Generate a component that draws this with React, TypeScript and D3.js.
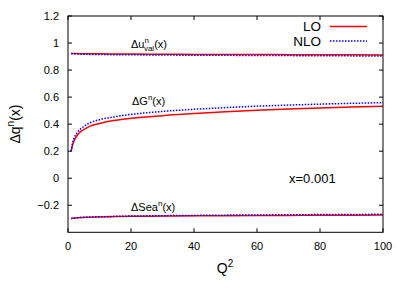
import React from "react";
import * as d3 from "d3";

const q2 = [1, 1.5, 2, 3, 4, 5, 7, 10, 15, 20, 30, 40, 50, 60, 70, 80, 90, 100];
const uvalLO = [0.924, 0.923, 0.923, 0.922, 0.921, 0.921, 0.920, 0.920, 0.919, 0.918, 0.917, 0.916, 0.915, 0.915, 0.914, 0.913, 0.913, 0.912];
const uvalNLO = [0.922, 0.921, 0.920, 0.919, 0.918, 0.917, 0.916, 0.915, 0.914, 0.913, 0.911, 0.910, 0.909, 0.908, 0.907, 0.906, 0.905, 0.904];
const gLO = [0.2, 0.25, 0.28, 0.32, 0.345, 0.36, 0.385, 0.405, 0.428, 0.443, 0.463, 0.478, 0.492, 0.503, 0.512, 0.52, 0.527, 0.532];
const gNLO = [0.2, 0.265, 0.3, 0.34, 0.365, 0.383, 0.41, 0.433, 0.456, 0.472, 0.494, 0.51, 0.522, 0.533, 0.541, 0.548, 0.554, 0.559];
const seaLO = [-0.298, -0.296, -0.295, -0.293, -0.291, -0.290, -0.288, -0.286, -0.284, -0.282, -0.280, -0.278, -0.277, -0.276, -0.275, -0.274, -0.273, -0.272];
const seaNLO = [-0.298, -0.296, -0.294, -0.292, -0.290, -0.289, -0.287, -0.285, -0.282, -0.280, -0.277, -0.275, -0.273, -0.272, -0.270, -0.269, -0.268, -0.267];
const xTicks = [0, 20, 40, 60, 80, 100];
const yTicks = [-0.2, 0, 0.2, 0.4, 0.6, 0.8, 1, 1.2];

const L = 68, R = 383, T = 16, B = 232.3;

export default function App() {
  const x = d3.scaleLinear().domain([0, 100]).range([L, R]);
  const y = d3.scaleLinear().domain([-0.4, 1.2]).range([B, T]);
  const line = (vals: number[]) =>
    d3.line<number>().x((_, i) => x(q2[i])).y((v) => y(v)).curve(d3.curveMonotoneX)(vals) || "";
  const font = "Liberation Sans, Arial, sans-serif";
  const lo = { stroke: "#ff0000", strokeWidth: 1.5, fill: "none" };
  const nlo = { stroke: "#0000ff", strokeWidth: 1.5, fill: "none", strokeDasharray: "1.5,1.5" };
  return (
    <svg width={415} height={291} style={{ position: "absolute", left: 0, top: 0 }} fontFamily={font}>
      <rect x={0} y={0} width={415} height={291} fill="#fff" />
      {xTicks.map((t) => (
        <g key={"x" + t}>
          <line x1={x(t)} x2={x(t)} y1={B} y2={B - 4} stroke="#000" />
          <line x1={x(t)} x2={x(t)} y1={T} y2={T + 4} stroke="#000" />
          <text x={x(t)} y={250} fontSize={11} textAnchor="middle">{t}</text>
        </g>
      ))}
      {yTicks.map((t) => (
        <g key={"y" + t}>
          <line x1={L} x2={L + 4} y1={y(t)} y2={y(t)} stroke="#000" />
          <line x1={R} x2={R - 4} y1={y(t)} y2={y(t)} stroke="#000" />
          <text x={59} y={y(t) + 4} fontSize={11} textAnchor="end">{d3.format("")(+t.toFixed(1))}</text>
        </g>
      ))}
      <path d={line(uvalLO)} {...lo} />
      <path d={line(uvalNLO)} {...nlo} />
      <path d={line(gLO)} {...lo} />
      <path d={line(gNLO)} {...nlo} />
      <path d={line(seaLO)} {...lo} />
      <path d={line(seaNLO)} {...nlo} />
      <rect x={L} y={T} width={R - L} height={B - T} fill="none" stroke="#000" strokeWidth={1} />
      <text x={131} y={48} fontSize={11}>Δu<tspan dy={-5} fontSize={8}>n</tspan><tspan dx={-5} dy={8} fontSize={8}>val</tspan><tspan dy={-3}>(x)</tspan></text>
      <text x={132} y={105} fontSize={11}>ΔG<tspan dy={-5} fontSize={8}>n</tspan><tspan dy={5}>(x)</tspan></text>
      <text x={131} y={210.5} fontSize={11}>ΔSea<tspan dy={-5} fontSize={8}>n</tspan><tspan dy={5}>(x)</tspan></text>
      <text x={289} y={183} fontSize={13}>x=0.001</text>
      <text x={321} y={31} fontSize={13.5} textAnchor="end">LO</text>
      <line x1={330} x2={367} y1={26.5} y2={26.5} {...lo} />
      <text x={321} y={46} fontSize={13.5} textAnchor="end">NLO</text>
      <line x1={330} x2={367} y1={41} y2={41} {...nlo} />
      <text x={225} y={273} fontSize={14} textAnchor="middle">Q<tspan dy={-6} fontSize={10}>2</tspan></text>
      <text transform="translate(20,124) rotate(-90)" fontSize={14} textAnchor="middle">Δq<tspan dy={-6} fontSize={10}>n</tspan><tspan dy={6}>(x)</tspan></text>
    </svg>
  );
}
